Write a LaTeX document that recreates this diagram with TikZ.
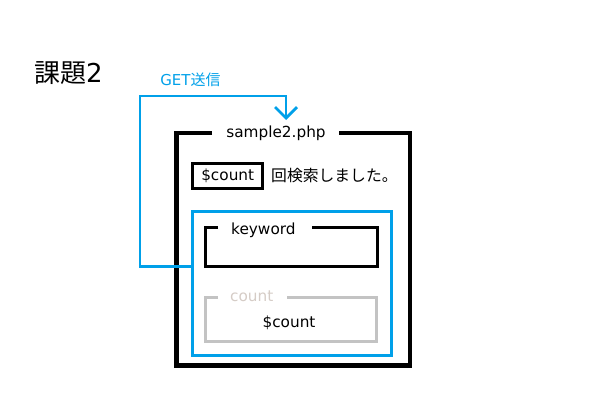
\documentclass[tikz,border=0pt]{standalone}
\usepackage{fontspec}
\setmainfont{DejaVu Sans}
\newfontfamily\jp{Noto Sans CJK JP}
\usetikzlibrary{arrows.meta,calc}
\definecolor{bluec}{HTML}{00A0E9}
\definecolor{grayc}{HTML}{C3C3C3}
\definecolor{lblgray}{HTML}{D5CCC6}
\tikzset{
  txt/.style={inner sep=0pt, font=\fontsize{15.3}{15.3}\selectfont},
  frameline/.style={line width=4.5pt, black},
  fieldbox/.style={draw, line width=2.6pt},
}
\begin{document}
\begin{tikzpicture}[x=1pt,y=-1pt]
\useasboundingbox (0,0) rectangle (594,420);
% title
\node[inner sep=0pt, font=\fontsize{26}{26}\selectfont, anchor=west] (title) at (34,73) {{\jp 課題}2};
% outer frame
\node[txt] (phplbl) at (276,133) {sample2.php};
\draw[frameline] (212,133) -- (176.5,133) -- (176.5,365.5) -- (410,365.5) -- (410,133) -- (339,133);
% $count box
\node[fieldbox, minimum width=70pt, minimum height=25pt, inner sep=0pt, font=\fontsize{15.3}{15.3}\selectfont] (cntbox) at (227.7,175.8) {\$count};
\node[txt, anchor=west, font=\jp\fontsize{15.8}{15.8}\selectfont] (msg) at (271,175.8) {回検索しました。};
% blue form box
\node[draw=bluec, line width=3pt, minimum width=199pt, minimum height=144pt, inner sep=0pt] (form) at (292.2,283) {};
% keyword box
\draw[line width=3pt] (218,227.5) -- (205.5,227.5) -- (205.5,266.5) -- (377.5,266.5) -- (377.5,227.5) -- (311.5,227.5);
\node[txt, anchor=west] (kw) at (231,230) {keyword};
% count box
\draw[grayc, line width=3pt] (218,297.5) -- (205.5,297.5) -- (205.5,341.5) -- (376.5,341.5) -- (376.5,297.5) -- (287,297.5);
\node[txt, anchor=west, text=lblgray] (cntlbl) at (230,296) {count};
\node[txt] (cntval) at (289,323) {\$count};
% GET arrow
\node[txt, text=bluec, font=\fontsize{15}{15}\selectfont] (getlbl) at (190.5,80) {GET{\jp 送信}};
\coordinate (tip) at (286,120);
\draw[bluec, line width=2.8pt, -{Straight Barb[length=11pt,width=22pt,line width=2.8pt]}]
  (form.west |- 0,266.5) -- (140,266.5) -- (140,96) -- (286,96) -- (tip);
\end{tikzpicture}
\end{document}
